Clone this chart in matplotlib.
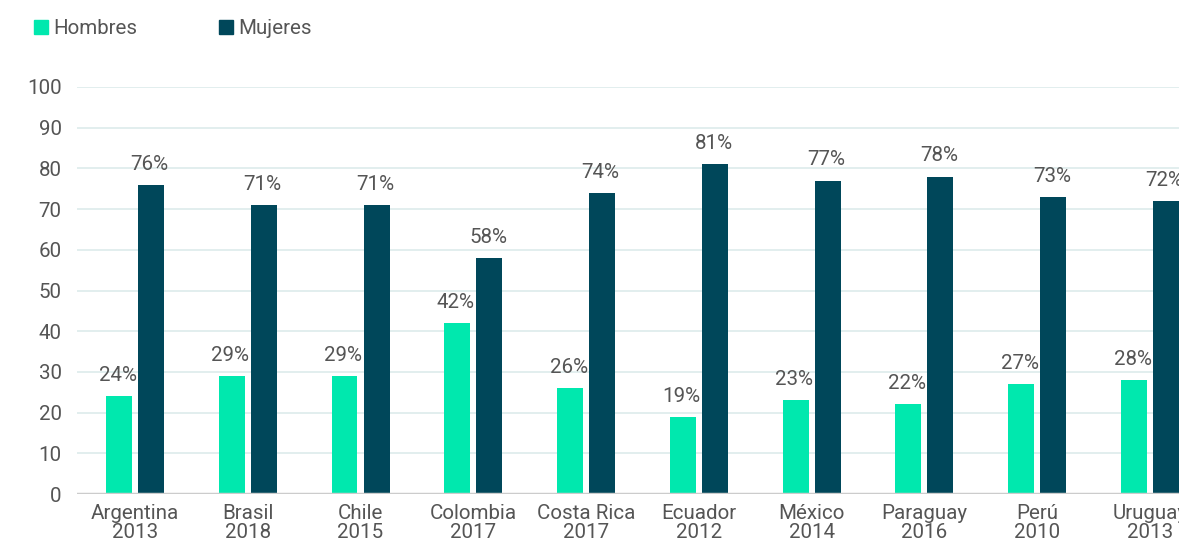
import matplotlib.pyplot as plt
import numpy as np

plt.rcParams['font.family'] = ['Roboto', 'DejaVu Sans']

paises = ["Argentina\n2013", "Brasil\n2018", "Chile\n2015", "Colombia\n2017", "Costa Rica\n2017",
          "Ecuador\n2012", "México\n2014", "Paraguay\n2016", "Perú\n2010", "Uruguay\n2013"]
hombres = [24, 29, 29, 42, 26, 19, 23, 22, 27, 28]
mujeres = [76, 71, 71, 58, 74, 81, 77, 78, 73, 72]

verde = '#00E8AE'
azul = '#00475A'
gris = '#555555'
fs = 14.8

fig = plt.figure(figsize=(11.79, 5.43), dpi=100)
ax = fig.add_axes([77 / 1179, 49 / 543, 1 - 77 / 1179, 407 / 543])

x = np.arange(len(paises))
w = 0.23
off = 0.142
b1 = ax.bar(x - off, hombres, w, color=verde, zorder=3)
b2 = ax.bar(x + off, mujeres, w, color=azul, zorder=3)

for bars, vals in ((b1, hombres), (b2, mujeres)):
    for b, v in zip(bars, vals):
        ax.annotate(f"{v}%", (b.get_x() + b.get_width() / 2, v), xytext=(-1, 8),
                    textcoords='offset points', ha='center', va='bottom',
                    fontsize=fs, color=gris, zorder=4)

ax.set_xlim(-0.514, 9.257)
ax.set_ylim(0, 100)
ax.set_yticks(range(0, 101, 10))
ax.set_xticks(x)
ax.set_xticklabels(paises, linespacing=1.05)
ax.tick_params(axis='both', length=0, labelsize=fs, labelcolor=gris)
ax.tick_params(axis='y', pad=11)
ax.tick_params(axis='x', pad=7)

for v in range(10, 101, 10):
    ax.axhline(v, color='#DDEBEB', lw=1.2, zorder=1)
ax.axhline(0, color='#CCCCCC', lw=2.5, zorder=4)

for s in ax.spines.values():
    s.set_visible(False)

# leyenda manual arriba a la izquierda
fig.patches.append(plt.Rectangle((34 / 1179, 1 - 34 / 543), 14 / 1179, 14 / 543,
                                 transform=fig.transFigure, color=verde))
fig.text(53 / 1179, 1 - 28 / 543, "Hombres", fontsize=fs, color=gris, va='center')
fig.patches.append(plt.Rectangle((219 / 1179, 1 - 34 / 543), 14 / 1179, 14 / 543,
                                 transform=fig.transFigure, color=azul))
fig.text(238 / 1179, 1 - 28 / 543, "Mujeres", fontsize=fs, color=gris, va='center')

fig.savefig('out.png', dpi=100)
